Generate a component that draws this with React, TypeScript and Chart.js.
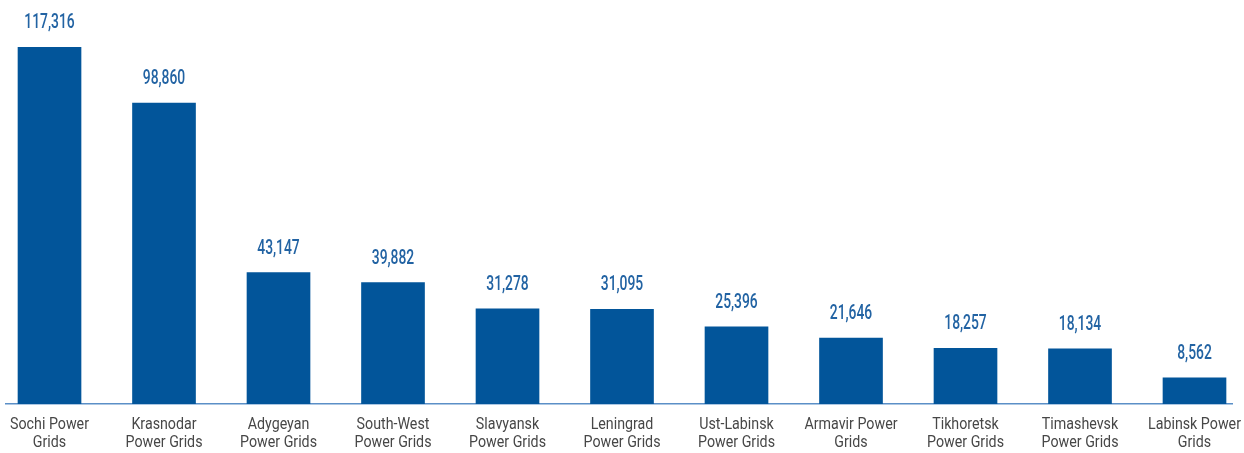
import React, { useEffect, useRef } from "react";
import { Chart, registerables } from "chart.js";

Chart.register(...registerables);

const categories: string[][] = [
  ["Sochi Power", "Grids"],
  ["Krasnodar", "Power Grids"],
  ["Adygeyan", "Power Grids"],
  ["South-West", "Power Grids"],
  ["Slavyansk", "Power Grids"],
  ["Leningrad", "Power Grids"],
  ["Ust-Labinsk", "Power Grids"],
  ["Armavir Power", "Grids"],
  ["Tikhoretsk", "Power Grids"],
  ["Timashevsk", "Power Grids"],
  ["Labinsk Power", "Grids"],
];

const values: number[] = [117316, 98860, 43147, 39882, 31278, 31095, 25396, 21646, 18257, 18134, 8562];

const FONT = "Roboto, 'Liberation Sans', sans-serif";
const BAR_COLOR = "#02559a";
const LABEL_COLOR = "#2263a3";
const TEXT_COLOR = "#474747";
const AXIS_COLOR = "#5b8fc7";

function squeezedText(ctx: CanvasRenderingContext2D, text: string, x: number, y: number, sx: number) {
  ctx.save();
  ctx.translate(x, y);
  ctx.scale(sx, 1);
  ctx.fillText(text, 0, 0);
  ctx.restore();
}

const textPlugin = {
  id: "textPlugin",
  afterDatasetsDraw(chart: any) {
    const ctx: CanvasRenderingContext2D = chart.ctx;
    const meta = chart.getDatasetMeta(0);
    const xScale = chart.scales.x;
    const bottom = chart.chartArea.bottom;
    ctx.save();
    ctx.textAlign = "center";
    ctx.textBaseline = "alphabetic";
    // value labels
    ctx.font = `500 21px ${FONT}`;
    ctx.fillStyle = LABEL_COLOR;
    meta.data.forEach((bar: any, i: number) => {
      squeezedText(ctx, values[i].toLocaleString("en-US"), bar.x, bar.y - 19, 0.66);
    });
    // category labels
    ctx.font = `16px ${FONT}`;
    ctx.fillStyle = TEXT_COLOR;
    categories.forEach((lines, i) => {
      const x = xScale.getPixelForValue(i);
      lines.forEach((line, j) => {
        squeezedText(ctx, line, x, bottom + 25 + j * 18, 0.89);
      });
    });
    ctx.restore();
  },
};

export default function App() {
  const ref = useRef<HTMLCanvasElement | null>(null);
  useEffect(() => {
    document.body.style.margin = "0";
    const canvas = ref.current!;
    const chart = new Chart(canvas, {
      type: "bar",
      data: {
        datasets: [
          {
            data: values.map((v, i) => ({ x: i, y: v })),
            backgroundColor: BAR_COLOR,
            barThickness: 63,
          },
        ],
      },
      options: {
        animation: false,
        responsive: false,
        maintainAspectRatio: false,
        layout: { padding: { top: 47, left: 6, right: 12, bottom: 49 } },
        plugins: { legend: { display: false }, tooltip: { enabled: false } },
        scales: {
          x: {
            type: "linear",
            min: -0.38,
            max: 10.3275,
            offset: false,
            grid: { display: false, offset: false, drawTicks: false },
            border: { display: true, color: AXIS_COLOR, width: 1.5 },
            ticks: { display: false, stepSize: 1 },
          },
          y: {
            display: false,
            min: 0,
            max: 117316,
          },
        },
      },
      plugins: [textPlugin],
    } as any);
    return () => chart.destroy();
  }, []);
  return <canvas ref={ref} width={1244} height={453} style={{ display: "block" }} />;
}
